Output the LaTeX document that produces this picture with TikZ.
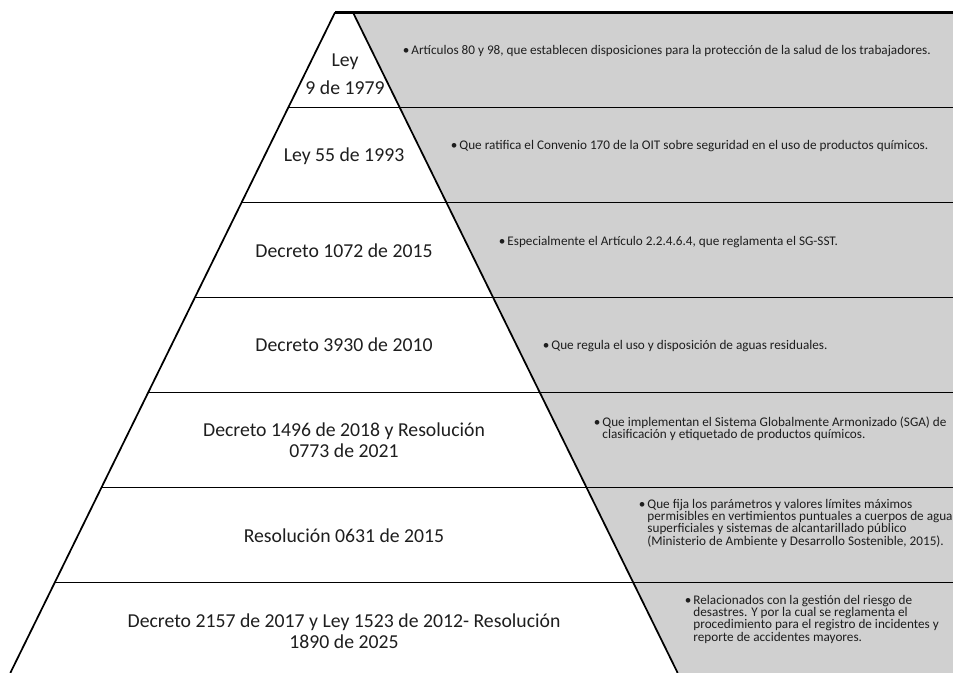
\documentclass[tikz,border=0pt]{standalone}
\usepackage{fontspec}
\setmainfont{Carlito}
\usepackage{xcolor}
\usetikzlibrary{positioning, calc}

\definecolor{panelgray}{RGB}{208,208,208}
\definecolor{textgray}{RGB}{30,30,30}
\newcommand{\normafont}{\fontsize{14.8}{15.75}\selectfont}
\newcommand{\leyfont}{\fontsize{14.8}{21}\selectfont}
\newcommand{\notafont}{\fontsize{9.9}{9.1}\selectfont\lineskiplimit=-20pt}
\newcommand{\punto}{\makebox[6.5pt][l]{\textbullet}}
\newcommand{\sangria}{\hspace*{6.5pt}}

\begin{document}
\begin{tikzpicture}[x=0.75pt, y=-0.75pt,
		borde/.style={draw=black, line width=1.3pt},
		norma/.style={font=\normafont, align=center, anchor=base, inner sep=0pt, text=textgray},
		nota/.style={font=\notafont, align=left, anchor=base west, inner sep=0pt, text=textgray}]
		\useasboundingbox (0,0) rectangle (953,673);
		\clip (0,0) rectangle (953,673);

		% Pyramid corners
		\coordinate (topL) at (335,12.5);
		\coordinate (topR) at (353,12.5);
		\coordinate (botL) at (10.3,673);
		\coordinate (botR) at (677.7,673);

		% Grey panel
		\fill[panelgray] (topR) -- (953,12.5) -- (953,673) -- (botR) -- cycle;

		% Outline
		\draw[borde] (topL) -- (botL);
		\draw[borde] (topR) -- (botR);
		\draw[borde, line width=1.6pt] (topL) -- (953,12.5);

		% Band lines
		\draw[borde] ($(topL)!0.1438!(botL)$) -- +(700,0);
		\draw[borde] ($(topL)!0.2877!(botL)$) -- +(750,0);
		\draw[borde] ($(topL)!0.4315!(botL)$) -- +(800,0);
		\draw[borde] ($(topL)!0.5753!(botL)$) -- +(850,0);
		\draw[borde] ($(topL)!0.7192!(botL)$) -- +(900,0);
		\draw[borde] ($(topL)!0.8630!(botL)$) -- +(950,0);

		% Nodes: pyramid (base = last line)
		\node (ley9) [norma, font=\leyfont] at (345,95) {Ley\\9 de 1979};
		\node (ley55) [norma] at (344,162) {Ley 55 de 1993};
		\node (dec1072) [norma] at (344,258) {Decreto 1072 de 2015};
		\node (dec3930) [norma] at (344,352) {Decreto 3930 de 2010};
		\node (dec1496) [norma] at (344,457) {Decreto 1496 de 2018 y Resolución\\0773 de 2021};
		\node (res0631) [norma] at (344,542) {Resolución 0631 de 2015};
		\node (dec2157) [norma] at (344,648) {Decreto 2157 de 2017 y Ley 1523 de 2012- Resolución\\1890 de 2025};

		% Nodes: notes
		\node (nota9) [nota] at (402.5,55) {\punto Artículos 80 y 98, que establecen disposiciones para la protección de la salud de los trabajadores.};
		\node (nota55) [nota] at (450.5,150) {\punto Que ratifica el Convenio 170 de la OIT sobre seguridad en el uso de productos químicos.};
		\node (nota1072) [nota] at (498.5,246) {\punto Especialmente el Artículo 2.2.4.6.4, que reglamenta el SG-SST.};
		\node (nota3930) [nota] at (542.5,350) {\punto Que regula el uso y disposición de aguas residuales.};
		\node (nota1496) [nota] at (593.5,439) {\punto Que implementan el Sistema Globalmente Armonizado (SGA) de\\
			\sangria clasificación y etiquetado de productos químicos.};
		\node (nota0631) [nota] at (638.5,545) {\punto Que fija los parámetros y valores límites máximos\\
			\sangria permisibles en vertimientos puntuales a cuerpos de aguas\\
			\sangria superficiales y sistemas de alcantarillado público\\
			\sangria (Ministerio de Ambiente y Desarrollo Sostenible, 2015).};
		\node (nota2157) [nota] at (684.5,641) {\punto Relacionados con la gestión del riesgo de\\
			\sangria desastres. Y por la cual se reglamenta el\\
			\sangria procedimiento para el registro de incidentes y\\
			\sangria reporte de accidentes mayores.};

	\end{tikzpicture}
\end{document}
